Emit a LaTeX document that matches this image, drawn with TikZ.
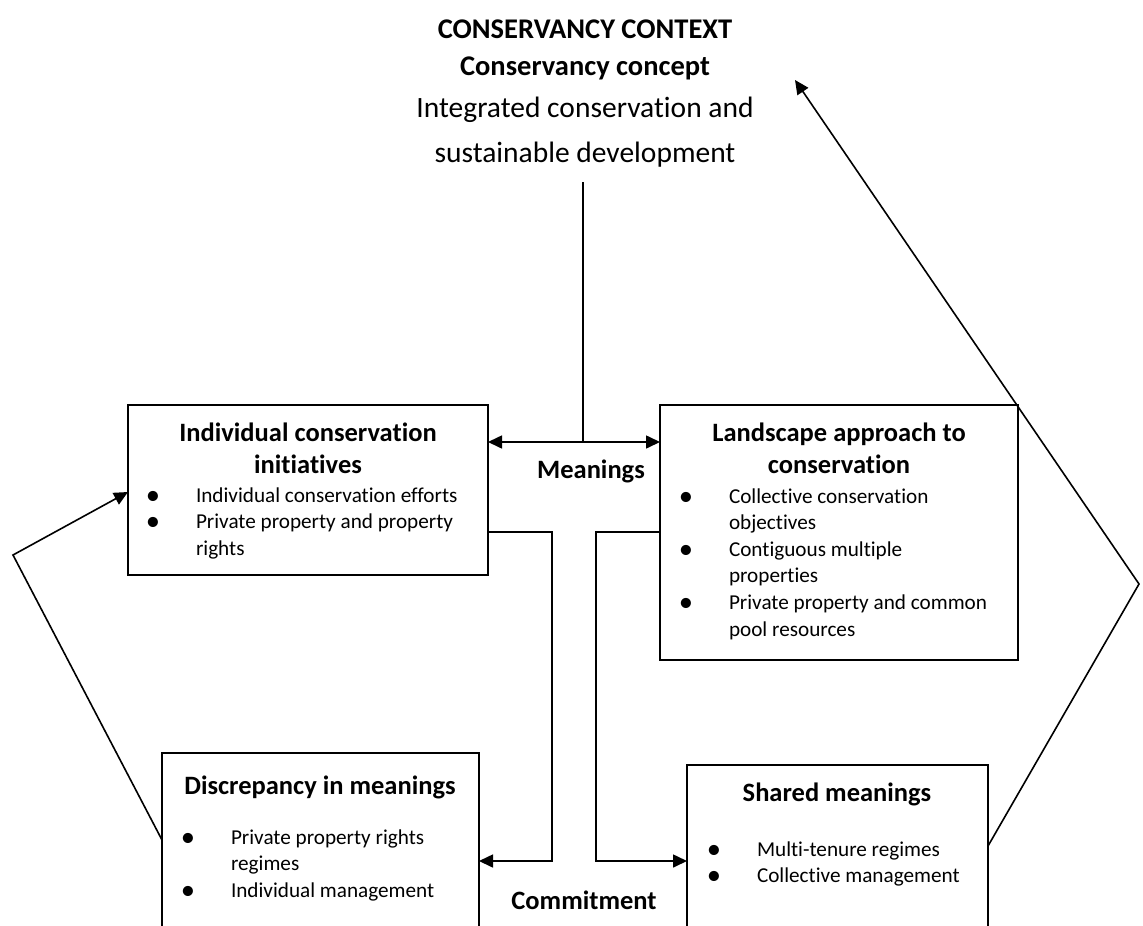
\documentclass[tikz,border=0pt]{standalone}
\usepackage{graphicx}
\usepackage{fontspec}
\setmainfont{Carlito}[Ligatures=NoCommon]
\usetikzlibrary{arrows.meta,calc}

% bullet list: dot centred on the anchor, text 43pt to its right
\newcommand\itemdot{\makebox[0pt]{\raisebox{-2.3pt}{\scalebox{1.35}{\textbullet}}}}
\newcommand\dotlist[1]{\begin{tabular}[t]{@{}p{43pt}@{}l@{}}#1\end{tabular}}
\newcommand\lines[1]{\begin{tabular}[t]{@{}c@{}}#1\end{tabular}}
\newcommand\plainline{\fontsize{29.5}{37}\selectfont}

\begin{document}
\begin{tikzpicture}[x=1pt,y=-1pt,
  every node/.style={inner sep=0pt, outer sep=0pt},
  box/.style={draw, line width=1.6pt, anchor=north west},
  link/.style={line width=1.6pt},
  tip/.style={-{Triangle[length=14pt,width=13pt]}},
  twotip/.style={{Triangle[length=14pt,width=13pt]}-{Triangle[length=14pt,width=13pt]}},
  heading/.style={font=\fontsize{26.5}{32}\selectfont\bfseries, anchor=base},
  items/.style={font=\fontsize{21.2}{26.6}\selectfont, anchor=base west},
  label/.style={font=\fontsize{26.5}{32}\selectfont\bfseries, anchor=base},
]
\useasboundingbox (0,0) rectangle (1143,926);
\clip (0,0) rectangle (1143,926);

% context heading
\node[anchor=base, font=\fontsize{28.5}{37}\selectfont] (ctx) at (585,38)
  {\lines{\bfseries CONSERVANCY CONTEXT\\ \bfseries Conservancy concept\\[5pt]
   \plainline Integrated conservation and\\[8pt] \plainline sustainable development}};

% boxes
\node[box, minimum width=360pt, minimum height=170pt] (b1) at (128,405) {};
\node[box, minimum width=358pt, minimum height=255pt] (b2) at (660,405) {};
\node[box, minimum width=317pt, minimum height=220pt] (b3) at (162,753) {};
\node[box, minimum width=301pt, minimum height=220pt] (b4) at (687,765) {};

% box contents
\node[heading] (h1) at (308,441) {\lines{Individual conservation\\initiatives}};
\node[items] (l1) at (153,502) {\dotlist{\itemdot & Individual conservation efforts\\
  \itemdot & Private property and property\\ & rights}};

\node[heading] (h2) at (839,441) {\lines{Landscape approach to\\conservation}};
\node[items] (l2) at (686,503) {\dotlist{\itemdot & Collective conservation\\ & objectives\\
  \itemdot & Contiguous multiple\\ & properties\\
  \itemdot & Private property and common\\ & pool resources}};

\node[heading] (h3) at (320,794) {Discrepancy in meanings};
\node[items] (l3) at (188,844) {\dotlist{\itemdot & Private property rights\\ & regimes\\
  \itemdot & Individual management}};

\node[heading] (h4) at (837,801) {Shared meanings};
\node[items] (l4) at (714,856) {\dotlist{\itemdot & Multi-tenure regimes\\
  \itemdot & Collective management}};

\node[label] (meanings) at (591,478) {Meanings};
\node[label] (commitment) at (584,909) {Commitment};

% connectors
\coordinate (stem) at (583,182);
\coordinate (hub) at (583,442);
\draw[link] (stem) -- (hub);
\draw[link, twotip] (b1.east |- hub) -- (b2.west |- hub);

\coordinate (lk) at (552,532);
\coordinate (ld) at (552,861);
\draw[link, tip] (b1.east |- lk) -- (lk) -- (ld) -- (b3.east |- ld);

\coordinate (rk) at (596,532);
\coordinate (rd) at (596,861);
\draw[link, tip] (b2.west |- rk) -- (rk) -- (rd) -- (b4.west |- rd);

\coordinate (lv) at (13,555);
\draw[link, tip] ($(b3.north west)+(0,87)$) -- (lv) -- ($(b1.north west)+(0,87)$);

\coordinate (rv) at (1139,584);
\coordinate (apex) at (795,80);
\draw[link, tip] ($(b4.north east)+(0,81)$) -- (rv) -- (apex);
\end{tikzpicture}
\end{document}
